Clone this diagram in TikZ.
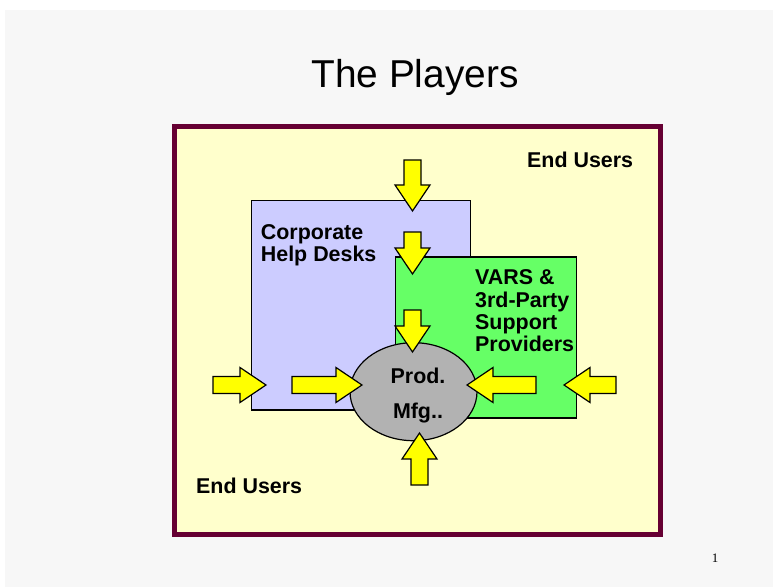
\documentclass[tikz,border=0pt]{standalone}
\usepackage{fontspec}
\setmainfont{Liberation Sans}
\newfontfamily\pagenumfont{Liberation Serif}
\usetikzlibrary{shapes.geometric,calc}

\definecolor{slidegray}{HTML}{F7F7F7}
\definecolor{usersbg}{HTML}{FFFFCC}
\definecolor{usersframe}{HTML}{660033}
\definecolor{deskblue}{HTML}{CCCCFF}
\definecolor{varsgreen}{HTML}{66FF66}
\definecolor{prodgray}{HTML}{B2B2B2}
\definecolor{arrowyellow}{HTML}{FFFF00}

\begin{document}
\begin{tikzpicture}[x=1bp, y=-1bp,
    playertext/.style={font=\bfseries\fontsize{21.5}{22.3}\selectfont, inner sep=0pt, align=left},
    playerbox/.style={draw, rectangle, line width=1.2bp},
    fatarrow/.style={draw, line width=1.2bp, fill=arrowyellow, line join=miter,
      to path={let \p1=(\tikztostart), \p2=(\tikztotarget),
        \n1={atan2(\y2-\y1,\x2-\x1)}, \n2={veclen(\x2-\x1,\y2-\y1)} in
        ($(\p1)+(\n1+90:8.5bp)$) -- ++(\n1:\n2-26bp) -- ++(\n1+90:9bp) -- (\p2)
        -- ($(\p2)+(\n1+180:26bp)+(\n1-90:17.5bp)$) -- ++(\n1+90:9bp)
        -- ($(\p1)+(\n1-90:8.5bp)$) -- cycle}}]

  % Slide
  \useasboundingbox (0,0) rectangle (773,587);
  \fill[white] (0,0) rectangle (773,587);
  \fill[slidegray] (5,10) rectangle (773,587);
  \node[font=\fontsize{39}{44}\selectfont, anchor=base, inner sep=0pt] (title) at (415,88) {The Players};
  \node[font=\pagenumfont\fontsize{13}{15}\selectfont, anchor=base, inner sep=0pt] (pagenum) at (715,562) {1};

  % End users
  \node[draw=usersframe, line width=5bp, fill=usersbg, rectangle, minimum width=486bp, minimum height=408bp] (users) at (417.5,330.5) {};
  \node[playertext, anchor=base west] (usersA) at (527,168) {End Users};
  \node[playertext, anchor=base west] (usersB) at (196,493) {End Users};

  % Corporate help desks
  \node[playerbox, fill=deskblue, minimum width=219bp, minimum height=209bp] (desks) at (361.2,305.4) {};
  \node[playertext, anchor=base west] (desksT) at (260.7,261.7) {Corporate\\Help Desks};

  % VARS
  \node[playerbox, fill=varsgreen, minimum width=181bp, minimum height=161bp] (vars) at (486.3,337.5) {};
  \node[playertext, anchor=base west] (varsT) at (475,351.5) {VARS \&\\3rd-Party\\Support\\Providers};

  % Product manufacturers
  \node[draw, ellipse, line width=1.2bp, fill=prodgray, minimum width=127bp, minimum height=98bp] (prod) at (413.5,391.7) {};
  \node[playertext, align=center, font=\bfseries\fontsize{21.5}{35}\selectfont, anchor=base] (prodT) at (418,418) {Prod.\\Mfg..};

  % Arrows
  \coordinate (topA) at (412.5,160);  \coordinate (topB) at (412.5,211);
  \coordinate (deskA) at (412.5,232); \coordinate (deskB) at (412.5,274);
  \coordinate (varsA) at (412.5,310); \coordinate (varsB) at (412.5,352);
  \coordinate (botA) at (419.5,485);  \coordinate (botB) at (419.5,433);
  \coordinate (leftA) at (213,385);   \coordinate (leftB) at (266,385);
  \coordinate (inlA) at (292,385);    \coordinate (inlB) at (362,385);
  \coordinate (inrA) at (536,385);    \coordinate (inrB) at (467,385);
  \coordinate (rightA) at (616,385);  \coordinate (rightB) at (564,385);
  \foreach \a/\b in {topA/topB, deskA/deskB, varsA/varsB, botA/botB,
                     leftA/leftB, inlA/inlB, inrA/inrB, rightA/rightB}
    \draw[fatarrow] (\a) to (\b);
\end{tikzpicture}
\end{document}
